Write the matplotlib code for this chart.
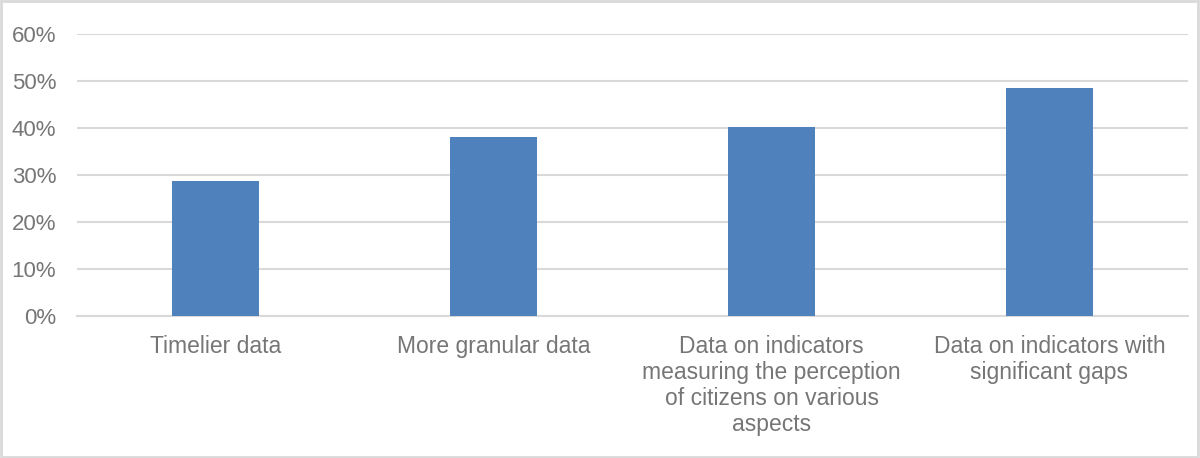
import matplotlib.pyplot as plt
from matplotlib.ticker import PercentFormatter

plt.rcParams['font.family'] = ['Liberation Sans', 'DejaVu Sans']

categories = [
    "Timelier data",
    "More granular data",
    "Data on indicators\nmeasuring the perception\nof citizens on various\naspects",
    "Data on indicators with\nsignificant gaps",
]
values = [28.8, 38.2, 40.2, 48.5]
yticks = [0, 10, 20, 30, 40, 50, 60]

grey = "#767676"
grid = "#d9d9d9"

fig = plt.figure(figsize=(12, 4.58), dpi=100)
ax = fig.add_axes([0.0642, 0.309, 0.926, 0.617])

x = range(len(categories))
ax.bar(x, values, width=0.313, color="#4f81bd", zorder=3)

ax.set_xlim(-0.5, len(categories) - 0.5)
ax.set_ylim(0, 60)
ax.set_yticks(yticks)
ax.yaxis.set_major_formatter(PercentFormatter(decimals=0))
ax.grid(axis="y", color=grid, linewidth=1.5, zorder=0)
ax.set_xticks(list(x))
ax.set_xticklabels(categories, fontsize=16.5, color=grey, linespacing=1.17)
ax.tick_params(axis="y", length=0, labelsize=16, labelcolor=grey, pad=15)
ax.tick_params(axis="x", length=0, pad=13)

for s in ["top", "right", "left"]:
    ax.spines[s].set_visible(False)
ax.spines["bottom"].set_color(grid)
ax.spines["bottom"].set_linewidth(1.5)

# light frame around the whole chart
fig.patches.append(plt.Rectangle((0.001, 0.002), 0.997, 0.995, transform=fig.transFigure,
                                 fill=False, edgecolor=grid, linewidth=2))

fig.savefig("out.png", dpi=100)
